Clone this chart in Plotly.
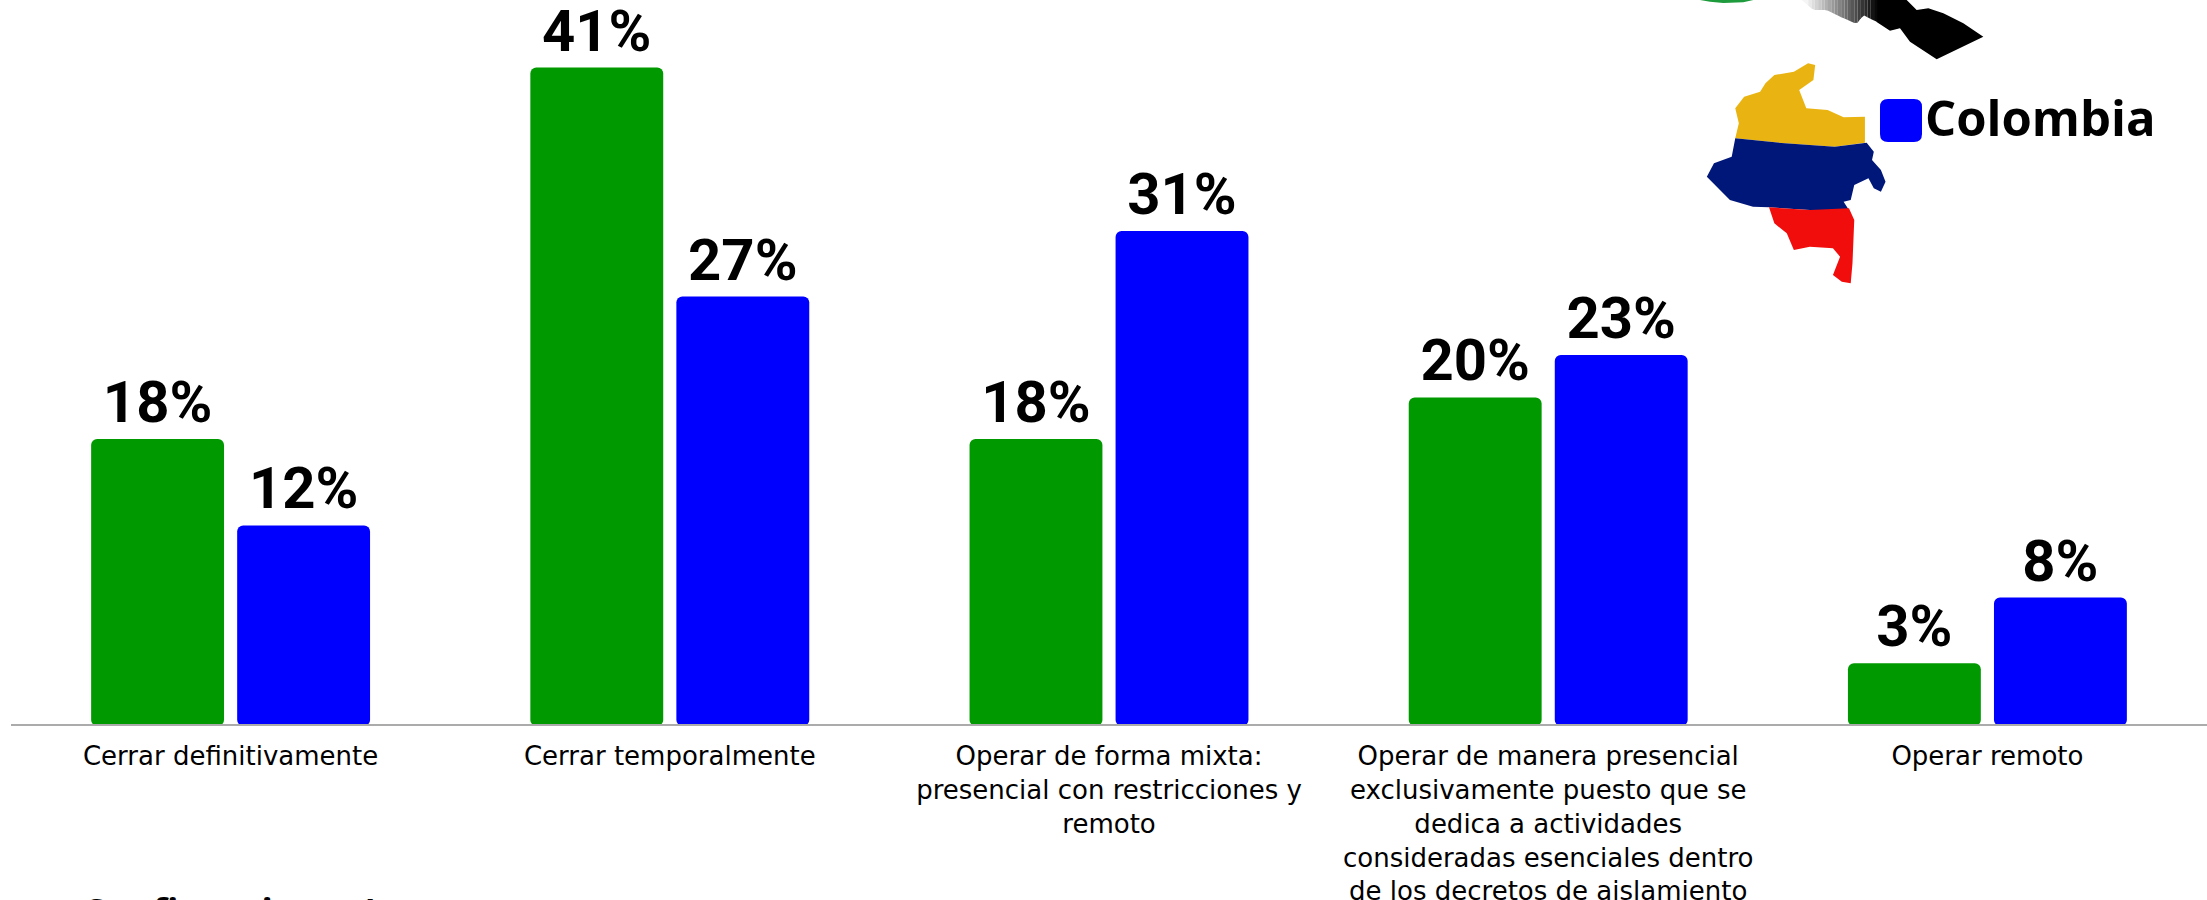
import numpy as np
import plotly.graph_objects as go

categories = ["Cerrar definitivamente", "Cerrar temporalmente",
              "Operar de forma mixta:<br>presencial con restricciones y<br>remoto",
              "Operar de manera presencial<br>exclusivamente puesto que se<br>dedica a actividades<br>consideradas esenciales dentro<br>de los decretos de aislamiento",
              "Operar remoto"]
green_values = [17.8, 41.0, 17.8, 20.4, 3.8]
blue_values = [12.4, 26.7, 30.8, 23.05, 7.9]
green_labels = ["18%", "41%", "18%", "20%", "3%"]
blue_labels = ["12%", "27%", "31%", "23%", "8%"]
legend_name = "Colombia"
W, H = 2207, 900
L, B = 11, 176
GREEN, BLUE = "#009900", "#0000FF"
LABEL_FONT = dict(family="Roboto", size=58, color="#000000", weight=700)
BELOW = 0.12

fig = go.Figure()
for name, vals, labs, col in [("Verde", green_values, green_labels, GREEN), (legend_name, blue_values, blue_labels, BLUE)]:
    fig.add_bar(x=categories, y=[v + BELOW for v in vals], base=-BELOW, name=name,
                marker=dict(color=col, line_width=0),
                text=labs, textposition="outside", textfont=LABEL_FONT, cliponaxis=False,
                showlegend=False)

def px(x): return (x - L) / (W - L)
def py(y): return 1 - y / (H - B)
def path(pts):
    return "M" + " L".join(f"{px(x):.5f},{py(y):.5f}" for x, y in pts) + " Z"
def m(pts):
    return [(1650 + a / 2.815, b / 3) for a, b in pts]
def t(pts):
    return [(1680 + a / 3, b / 3) for a, b in pts]

yellow = m([(465,195),(445,190),(405,215),(350,225),(325,250),(310,275),(265,290),(240,325),(250,370),(240,415),(380,430),(520,440),(605,428),(605,350),(545,352),(500,330),(440,325),(420,270),(460,240)])
navy = m([(240,415),(380,430),(520,440),(610,428),(630,455),(625,480),(650,510),(663,545),(650,575),(630,565),(615,535),(575,555),(565,600),(545,605),(560,630),(450,630),(335,622),(290,620),(225,600),(160,530),(180,490),(230,470)])
red = m([(335,622),(450,630),(560,625),(575,660),(570,790),(565,850),(540,845),(515,825),(535,770),(515,745),(450,740),(405,750),(385,700),(350,670)])
black = t([(680,0),(710,30),(745,25),(790,40),(850,70),(910,110),(770,178),(690,125),(660,85),(630,92),(590,66),(590,0)])
green_bit = t([(60,0),(220,0),(190,7),(130,9),(90,5)])
shapes = []
for pts, c in [(yellow, "#E9B412"), (navy, "#00177A"), (red, "#F20D0D"), (black, "#000000"), (green_bit, "#1E9B3C")]:
    shapes.append(dict(type="path", xref="paper", yref="paper", path=path(pts), fillcolor=c, line_width=0, layer="above"))
# soft white-to-black fade on the cropped map edge
edge_x = [365, 400, 440, 480, 530, 550, 590]
edge_y = [0, 30, 30, 50, 72, 45, 66]
grid = np.linspace(365, 592, 24)
for a, b in zip(grid[:-1], grid[1:]):
    grey = int(np.interp((a + b) / 2, [380, 590], [245, 5]))
    pts = [(a, 0), (b, 0), (b, float(np.interp(b, edge_x, edge_y))), (a, float(np.interp(a, edge_x, edge_y)))]
    shapes.append(dict(type="path", xref="paper", yref="paper", path=path(t(pts)),
                       fillcolor=f"rgb({grey},{grey},{grey})", line_width=0, layer="above"))
r = 8
x0, x1, y0, y1 = 1880, 1922, 99, 142
rect = (f"M{px(x0+r):.5f},{py(y0):.5f} L{px(x1-r):.5f},{py(y0):.5f} Q{px(x1):.5f},{py(y0):.5f} {px(x1):.5f},{py(y0+r):.5f} "
        f"L{px(x1):.5f},{py(y1-r):.5f} Q{px(x1):.5f},{py(y1):.5f} {px(x1-r):.5f},{py(y1):.5f} L{px(x0+r):.5f},{py(y1):.5f} "
        f"Q{px(x0):.5f},{py(y1):.5f} {px(x0):.5f},{py(y1-r):.5f} L{px(x0):.5f},{py(y0+r):.5f} Q{px(x0):.5f},{py(y0):.5f} {px(x0+r):.5f},{py(y0):.5f} Z")
shapes.append(dict(type="path", xref="paper", yref="paper", path=rect, fillcolor=BLUE, line_width=0))

annotations = [
    dict(xref="paper", yref="paper", x=px(1923), y=py(117), text=legend_name, showarrow=False, xanchor="left", yanchor="middle",
         font=dict(family="Open Sans", size=49, color="#000000", weight=700)),
    dict(xref="paper", yref="paper", x=px(80), y=py(884), text="Confinamiento/", showarrow=False, xanchor="left", yanchor="top",
         font=dict(family="Open Sans", size=37, color="#000000", weight=700)),
]

fig.update_layout(width=W, height=H, autosize=False, paper_bgcolor="white", plot_bgcolor="white",
    margin=dict(l=L, r=0, t=0, b=B, autoexpand=False), barmode="group", bargap=0.335, bargroupgap=0.09, barcornerradius=6,
    shapes=shapes, annotations=annotations)
fig.update_xaxes(showline=True, linecolor="#ABABAB", linewidth=2, ticks="", ticklen=0, automargin=False,
                 ticklabelstandoff=8,
                 tickfont=dict(family="DejaVu Sans", size=26, color="#000000"), layer="above traces", showgrid=False)
fig.update_yaxes(range=[0, (H - B) / 16.01], visible=False, showgrid=False, zeroline=False, automargin=False)
fig.write_html("out.html", config=dict(displayModeBar=False),
               post_script="document.body.style.margin='0';document.body.style.overflow='hidden';")
